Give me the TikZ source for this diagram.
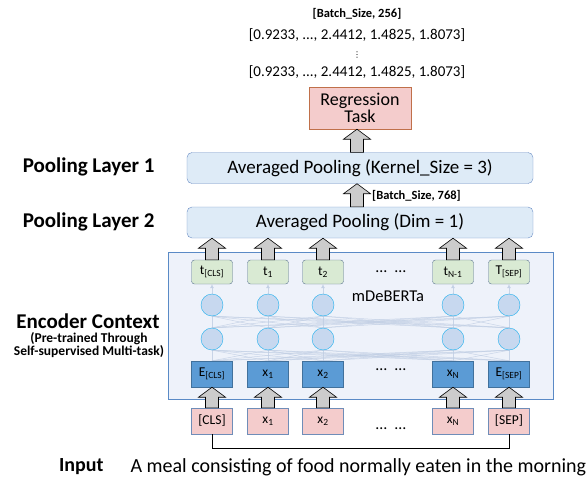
\documentclass[tikz,border=0pt]{standalone}
\usepackage{fontspec}
\setmainfont{Carlito}
\newfontfamily\symfont{DejaVu Sans}
\usetikzlibrary{positioning,calc,backgrounds,arrows.meta}

\definecolor{poolfill}{HTML}{DEEBF7}
\definecolor{poolline}{HTML}{6A8DC4}
\definecolor{encfill}{HTML}{EEF2FA}
\definecolor{encline}{HTML}{5A8AC6}
\definecolor{tokfill}{HTML}{D9EAD3}
\definecolor{tokline}{HTML}{5A7490}
\definecolor{embfill}{HTML}{5B9BD5}
\definecolor{embline}{HTML}{41719C}
\definecolor{hidfill}{HTML}{C7D8EF}
\definecolor{hidline}{HTML}{1FB0EE}
\definecolor{inpfill}{HTML}{F4CCCC}
\definecolor{inpline}{HTML}{6F8DB8}
\definecolor{regline}{HTML}{C0704A}
\definecolor{fanline}{HTML}{BFCDE3}

\begin{document}
\begin{tikzpicture}[x=1pt,y=-1pt,
  pool/.style={draw=poolline, fill=poolfill, rounded corners=5pt,
    minimum width=346pt, minimum height=31pt, font=\fontsize{19}{20}\selectfont},
  tok/.style={draw=tokline, fill=tokfill, rounded corners=3pt,
    minimum width=41pt, minimum height=24pt, inner sep=0pt, font=\fontsize{13.5}{14}\selectfont},
  emb/.style={draw=embline, fill=embfill,
    minimum width=41pt, minimum height=26pt, inner sep=0pt, font=\fontsize{13.5}{14}\selectfont},
  hid/.style={circle, draw=hidline, fill=hidfill, minimum size=22pt, inner sep=0pt},
  inp/.style={draw=inpline, fill=inpfill,
    minimum width=41pt, minimum height=26pt, inner sep=0pt, font=\fontsize{13.5}{14}\selectfont},
  fan/.style={draw=fanline, line width=0.5pt, opacity=0.8},
  side/.style={font=\bfseries\fontsize{21}{22}\selectfont, anchor=east},
  dims/.style={font=\bfseries\fontsize{12.5}{13}\selectfont, inner sep=0pt},
  gap/.style={font=\fontsize{16}{16}\selectfont, inner sep=0pt},
  barrow/.style={draw=black, fill=gray!40, line width=0.6pt,
    to path={let \p1=(\tikztostart), \p2=(\tikztotarget) in
      (\x1-6.5pt,\y1) -- (\x1-6.5pt,\y2-10pt) -- (\x1-13.5pt,\y2-10pt) -- (\x1,\y2)
      -- (\x1+13.5pt,\y2-10pt) -- (\x1+6.5pt,\y2-10pt) -- (\x1+6.5pt,\y1) -- cycle}},
]
\useasboundingbox (0,0) rectangle (587,479);

% output
\node[dims] (outsize) at (357,14) {[Batch\_Size, 256]};
\node[font=\fontsize{15}{16}\selectfont, inner sep=0pt] (vec1) at (357,35) {[0.9233, ..., 2.4412, 1.4825, 1.8073]};
\node[font=\symfont\fontsize{8}{8}\selectfont, inner sep=0pt] (vd) at (357,55) {⋮};
\node[font=\fontsize{15}{16}\selectfont, inner sep=0pt] (vec2) at (357,72) {[0.9233, ..., 2.4412, 1.4825, 1.8073]};
\node[draw=regline, fill=inpfill, minimum width=102pt, minimum height=42pt,
  align=center, font=\fontsize{18}{17}\selectfont, inner sep=0pt] (reg) at (360,108) {Regression\\Task};

% pooling
\node[pool] (pool1) at (360,168) {Averaged Pooling (Kernel\_Size = 3)};
\node[pool] (pool2) at (360,222.5) {Averaged Pooling (Dim = 1)};
\node[side] (lab1) at (158,167) {Pooling Layer 1};
\node[side] (lab2) at (158,222) {Pooling Layer 2};
\node[dims, anchor=west] (midsize) at (372,196) {[Batch\_Size, 768]};

% encoder
\foreach \i/\x/\tl/\el/\il in {
  1/212/t\textsubscript{[CLS]}/E\textsubscript{[CLS]}/[CLS],
  2/268/t\textsubscript{1}/x\textsubscript{1}/x\textsubscript{1},
  3/323/t\textsubscript{2}/x\textsubscript{2}/x\textsubscript{2},
  4/453/t\textsubscript{N-1}/x\textsubscript{N}/x\textsubscript{N},
  5/509/T\textsubscript{[SEP]}/E\textsubscript{[SEP]}/[SEP]} {
  \node[tok] (t\i) at (\x,272) {\tl};
  \node[hid] (u\i) at (\x,305) {};
  \node[hid] (l\i) at (\x,339) {};
  \node[emb] (e\i) at (\x,374) {\el};
  \node[inp] (in\i) at (\x,421) {\il};
}
\node[gap] (dt) at (391,272) {…\enspace…};
\node[gap] (de) at (391,370) {…\enspace…};
\node[gap] (di) at (391,429) {…\enspace…};
\node[font=\fontsize{16.5}{18}\selectfont] (model) at (388,296) {mDeBERTa};

\node[font=\bfseries\fontsize{21}{23}\selectfont] (enc) at (88,321) {Encoder Context};
\node[font=\bfseries\fontsize{13.5}{13}\selectfont, align=center] (encsub) at (89,345)
  {(Pre-trained Through\\Self-supervised Multi-task)};

\begin{scope}[on background layer]
  \draw[encline, fill=encfill, line width=0.8pt] (168,252) rectangle (553,399);
  \foreach \i in {1,...,5} {
    \foreach \j in {1,...,5} {
      \draw[fan] (e\i.north) -- (l\j.south);
      \draw[fan] (l\i.north) -- (u\j.south);
    }
    \draw[fan, -{Latex[length=4pt,width=4pt]}] (u\i.north) -- (t\i.south);
  }
\end{scope}

% block arrows
\foreach \i in {1,...,5} {
  \draw[barrow] (in\i.north) to (e\i.south);
  \draw[barrow] (t\i.north) to (t\i.north |- pool2.south);
}
\draw[barrow] ([xshift=-3pt]pool2.north) to ([xshift=-3pt]pool1.south);
\draw[barrow] ([xshift=-3pt]pool1.north) to ([xshift=-3pt]reg.south);

% input
\coordinate (brk) at (0,448);
\draw[line width=0.6pt] (in1.south) -- (in1.south |- brk) -| (in5.south);
\node[font=\bfseries\fontsize{20}{22}\selectfont, anchor=east] (inlab) at (107,467) {Input};
\node[font=\fontsize{20}{22}\selectfont, anchor=west] (sent) at (127,467)
  {A meal consisting of food normally eaten in the morning};
\end{tikzpicture}
\end{document}
